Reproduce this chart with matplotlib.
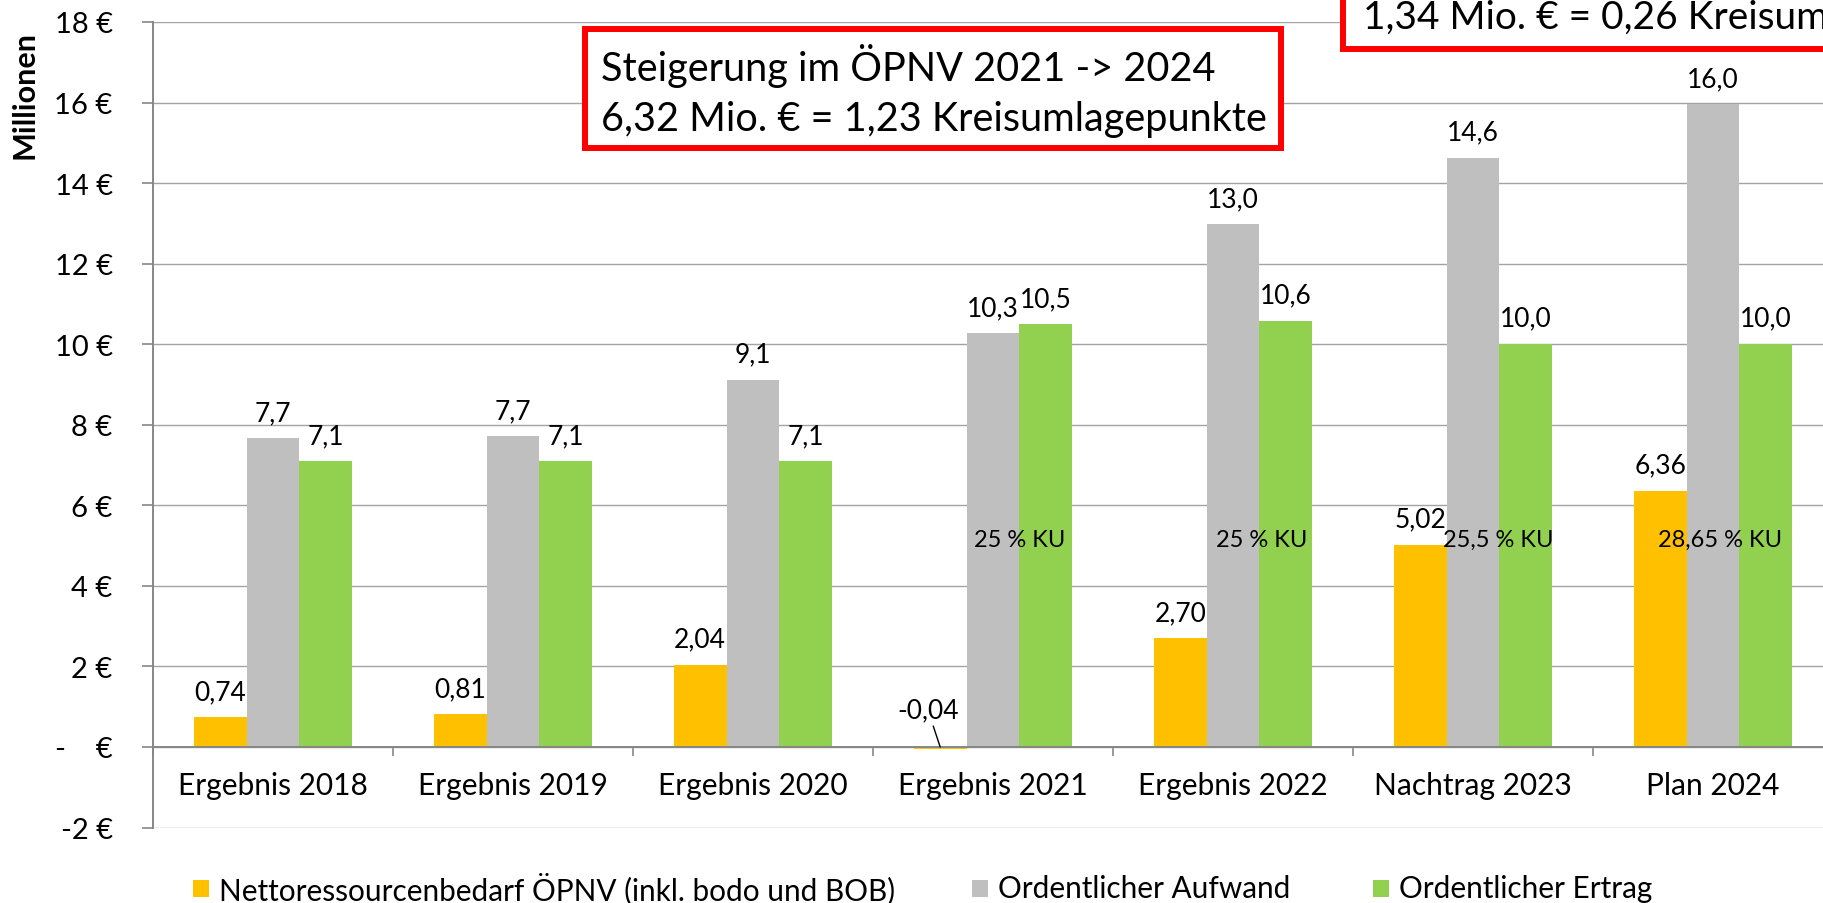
#!/usr/bin/env python3
"""
ÖPNV: Nettoressourcenbedarf, Aufwand und Ertrag 2018 - 2024 (Mio. €).
"""

import matplotlib.pyplot as plt
from matplotlib.patches import Rectangle
import numpy as np

plt.rcParams['font.family'] = ['Lato', 'DejaVu Sans']

# Data
categories = ['Ergebnis 2018', 'Ergebnis 2019', 'Ergebnis 2020', 'Ergebnis 2021',
              'Ergebnis 2022', 'Nachtrag 2023', 'Plan 2024']
netto = [0.74, 0.81, 2.04, -0.04, 2.70, 5.02, 6.36]
aufwand = [7.66, 7.72, 9.12, 10.27, 12.98, 14.63, 15.96]
ertrag = [7.09, 7.09, 7.09, 10.49, 10.58, 10.01, 10.01]
ku_labels = ['', '', '', '25 % KU', '25 % KU', '25,5 % KU', '28,65 % KU']
series_names = ['Nettoressourcenbedarf ÖPNV (inkl. bodo und BOB)',
                'Ordentlicher Aufwand', 'Ordentlicher Ertrag']
yticks = list(range(-2, 19, 2))
box1_lines = ['Steigerung im ÖPNV 2021 -> 2024',
              '6,32 Mio. € = 1,23 Kreisumlagepunkte']
box2_line = '1,34 Mio. € = 0,26 Kreisumlagepunkte'

# Styles
colors = ['#FFC000', '#BFBFBF', '#92D050']
grid_color = '#A3A3A3'
axis_color = '#878787'

W, H = 1823, 904


def fx(px):
    return px / W


def fy(py):
    return 1 - py / H


def euro(v):
    return '-    €' if v == 0 else f'{v} €'


def comma(v, nd):
    return f'{v:.{nd}f}'.replace('.', ',')


fig = plt.figure(figsize=(W / 100, H / 100), dpi=100)
ax = fig.add_axes([fx(153), fy(828.5), 1680 / W, (828.5 - 23) / H])

x = np.arange(len(categories))
w = 0.22
series = [netto, aufwand, ertrag]
decimals = [2, 1, 1]
for i, (vals, col) in enumerate(zip(series, colors)):
    xs = x + (i - 1) * w
    ax.bar(xs, vals, w, color=col, linewidth=0, zorder=2)
    for xi, v in zip(xs, vals):
        if v < 0:
            # small negative value: label lifted above the axis with a leader line
            ax.annotate(comma(v, decimals[i]), xy=(xi, 0), xytext=(-9, 27),
                        textcoords='offset points', ha='center', va='center',
                        fontsize=19,
                        arrowprops=dict(arrowstyle='-', color='black', lw=1,
                                        shrinkA=1, shrinkB=0))
        else:
            ax.annotate(comma(v, decimals[i]), xy=(xi, v), xytext=(0, 18.5),
                        textcoords='offset points', ha='center', va='center',
                        fontsize=19)

# share of Kreisumlage labels
ku_dx = [0, 0, 0, 0.11, 0.12, 0.105, 0.03]
for xi, lab, dx in zip(x, ku_labels, ku_dx):
    if lab:
        ax.text(xi + dx, 5.15, lab, ha='center', va='center', fontsize=17, zorder=3)

# axes formatting
ax.set_xlim(-0.5, len(categories) - 0.5)
ax.set_ylim(-2, 18)
ax.set_yticks(yticks)
ax.set_yticklabels([euro(v) for v in yticks], fontsize=21)
ax.set_xticks(np.arange(-0.5, len(categories), 1))
ax.set_xticklabels([])
ax.set_xticks(x, minor=True)
ax.set_xticklabels(categories, minor=True)
ax.tick_params(axis='x', which='major', length=6.5, color=axis_color, width=1.2)
ax.tick_params(axis='x', which='minor', length=0, pad=17, labelsize=21.5)
ax.tick_params(axis='y', length=8, pad=21, color=axis_color, width=1.2)
ax.yaxis.grid(True, color=grid_color, lw=1.0)
ax.set_axisbelow(True)
ax.spines['bottom'].set_position(('data', 0))
for s in ['top', 'right']:
    ax.spines[s].set_visible(False)
for s in ['bottom', 'left']:
    ax.spines[s].set_color(axis_color)
    ax.spines[s].set_linewidth(1.4)

fig.text(fx(25), fy(95), 'Millionen', rotation=90, fontweight='bold',
         ha='center', va='center', fontsize=22)

# red text boxes
fig.add_artist(Rectangle((fx(585), fy(149)), (1281 - 585) / W, (149 - 30) / H,
                         transform=fig.transFigure, facecolor='white',
                         edgecolor='red', lw=4.3, zorder=5))
for line, py in zip(box1_lines, [66, 120]):
    fig.text(fx(601), fy(py), line, ha='left', va='center', fontsize=28.5, zorder=6)

fig.add_artist(Rectangle((fx(1343), fy(50)), 600 / W, 120 / H,
                         transform=fig.transFigure, facecolor='white',
                         edgecolor='red', lw=4.3, zorder=5))
fig.text(fx(1363), fy(18), box2_line, ha='left', va='center', fontsize=28, zorder=6)

# legend
leg_x = [193, 972, 1373]
for px, name, col in zip(leg_x, series_names, colors):
    fig.add_artist(Rectangle((fx(px), fy(898)), 16 / W, 17 / H,
                             transform=fig.transFigure, facecolor=col, lw=0))
    fig.text(fx(px + 26), fy(889), name, ha='left', va='center', fontsize=21.4)

plt.savefig('out.png', dpi=100)
